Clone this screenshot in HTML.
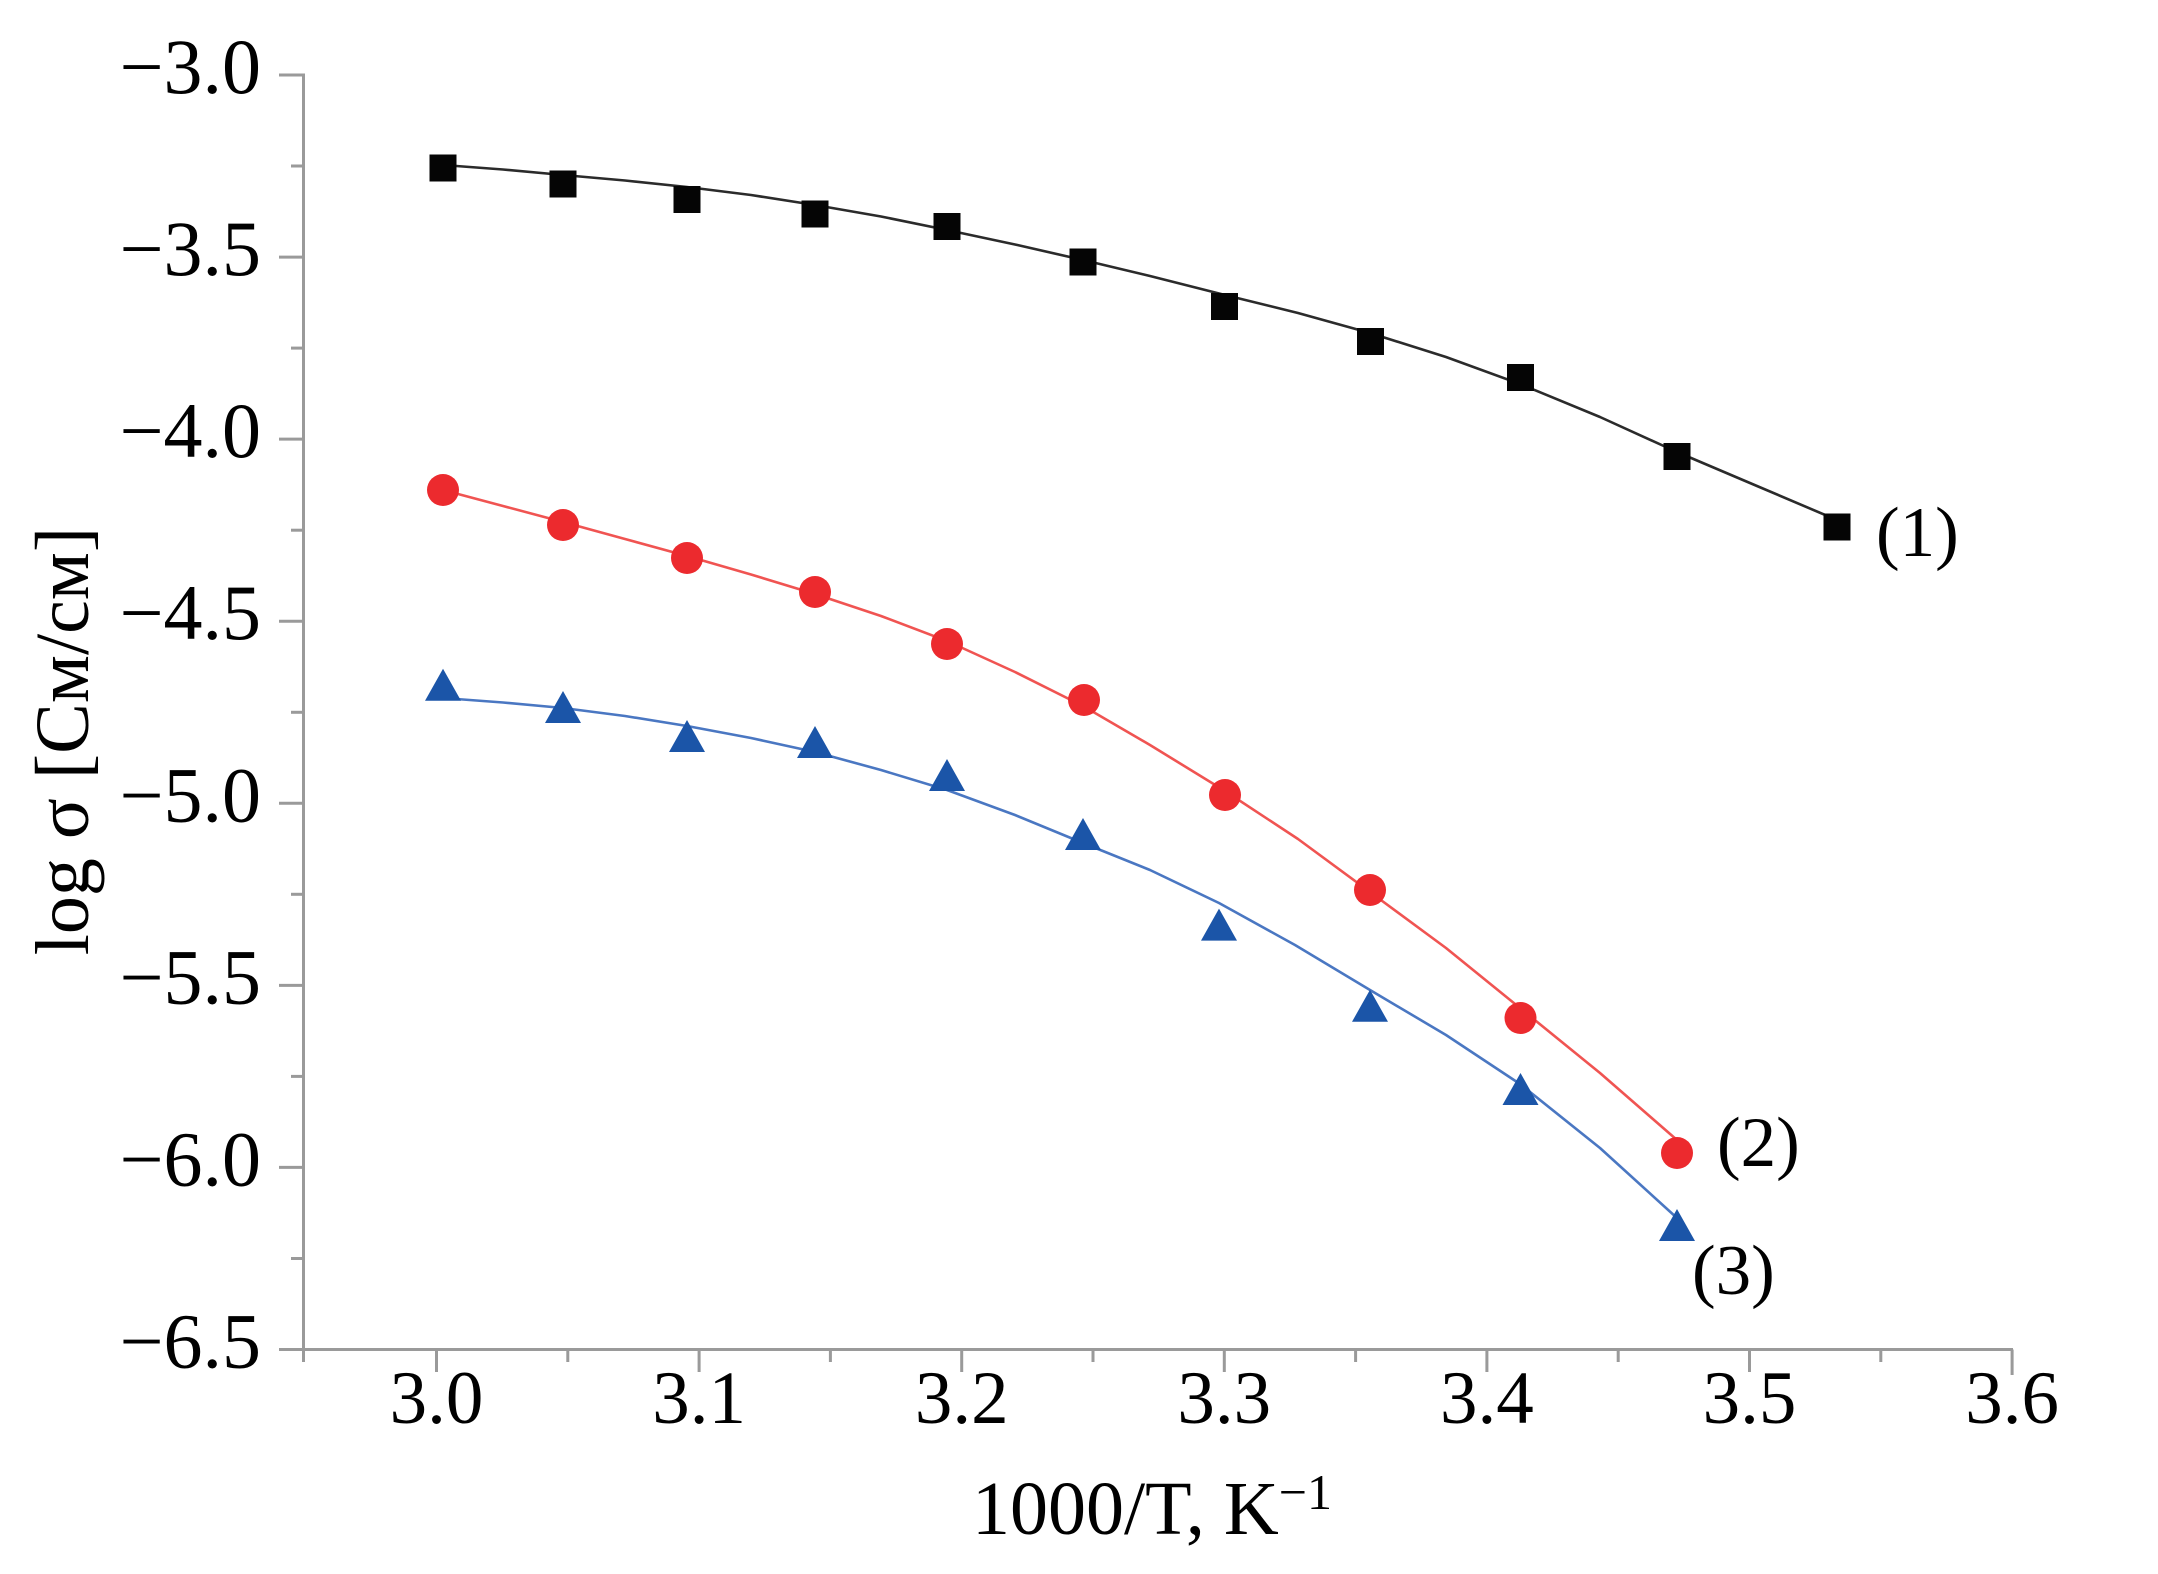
<!DOCTYPE html>
<html>
<head>
<meta charset="utf-8">
<style>
  html,body{margin:0;padding:0;background:#fff;}
  body{width:2158px;height:1574px;overflow:hidden;}
  svg{display:block;}
  text{font-family:"Liberation Serif","Times New Roman",serif;fill:#000;}
</style>
</head>
<body>
<svg width="2158" height="1574" viewBox="0 0 2158 1574" xmlns="http://www.w3.org/2000/svg">
  <rect width="2158" height="1574" fill="#fff"/>

  <!-- Axes -->
  <g stroke="#9a9a9a" stroke-width="3" fill="none">
    <line x1="303.5" y1="73.5" x2="303.5" y2="1362"/>
    <line x1="279" y1="1349.5" x2="2013" y2="1349.5"/>
    <line x1="279" y1="75" x2="303.5" y2="75"/>
    <line x1="279" y1="257.1" x2="303.5" y2="257.1"/>
    <line x1="279" y1="439.1" x2="303.5" y2="439.1"/>
    <line x1="279" y1="621.2" x2="303.5" y2="621.2"/>
    <line x1="279" y1="803.3" x2="303.5" y2="803.3"/>
    <line x1="279" y1="985.4" x2="303.5" y2="985.4"/>
    <line x1="279" y1="1167.4" x2="303.5" y2="1167.4"/>
    <line x1="291" y1="166" x2="303.5" y2="166"/>
    <line x1="291" y1="348.1" x2="303.5" y2="348.1"/>
    <line x1="291" y1="530.2" x2="303.5" y2="530.2"/>
    <line x1="291" y1="712.3" x2="303.5" y2="712.3"/>
    <line x1="291" y1="894.3" x2="303.5" y2="894.3"/>
    <line x1="291" y1="1076.4" x2="303.5" y2="1076.4"/>
    <line x1="291" y1="1258.5" x2="303.5" y2="1258.5"/>
    <line x1="436.5" y1="1349.5" x2="436.5" y2="1372"/>
    <line x1="699.1" y1="1349.5" x2="699.1" y2="1372"/>
    <line x1="961.7" y1="1349.5" x2="961.7" y2="1372"/>
    <line x1="1224.3" y1="1349.5" x2="1224.3" y2="1372"/>
    <line x1="1486.9" y1="1349.5" x2="1486.9" y2="1372"/>
    <line x1="1749.5" y1="1349.5" x2="1749.5" y2="1372"/>
    <line x1="2012.1" y1="1349.5" x2="2012.1" y2="1375"/>
    <line x1="567.8" y1="1349.5" x2="567.8" y2="1362"/>
    <line x1="830.4" y1="1349.5" x2="830.4" y2="1362"/>
    <line x1="1093" y1="1349.5" x2="1093" y2="1362"/>
    <line x1="1355.6" y1="1349.5" x2="1355.6" y2="1362"/>
    <line x1="1618.2" y1="1349.5" x2="1618.2" y2="1362"/>
    <line x1="1880.8" y1="1349.5" x2="1880.8" y2="1362"/>
  </g>

  <!-- Y tick labels -->
  <g font-size="78" text-anchor="end">
    <text x="261" y="93">−3.0</text>
    <text x="261" y="275.1">−3.5</text>
    <text x="261" y="457.1">−4.0</text>
    <text x="261" y="639.2">−4.5</text>
    <text x="261" y="821.3">−5.0</text>
    <text x="261" y="1003.4">−5.5</text>
    <text x="261" y="1185.4">−6.0</text>
    <text x="261" y="1367.5">−6.5</text>
  </g>

  <!-- X tick labels -->
  <g font-size="75" text-anchor="middle">
    <text x="436.5" y="1423">3.0</text>
    <text x="699.1" y="1423">3.1</text>
    <text x="961.7" y="1423">3.2</text>
    <text x="1224.3" y="1423">3.3</text>
    <text x="1486.9" y="1423">3.4</text>
    <text x="1749.5" y="1423">3.5</text>
    <text x="2012.1" y="1423">3.6</text>
  </g>

  <!-- Axis titles -->
  <text x="972" y="1534" font-size="76">1000/T, K<tspan font-size="50" dy="-25">−1</tspan></text>
  <text transform="translate(88,741) rotate(-90)" font-size="76" text-anchor="middle" style='font-family:"Liberation Serif","DejaVu Serif",serif'>log σ [См/см]</text>

  <!-- Curves -->
  <g fill="none" stroke-width="2.6" stroke-linejoin="round" stroke-linecap="round">
    <polyline stroke="#2b2b2b" points="443,165 503,169.5 563,175 625,180.5 687,187 751,195 815,205 881,216.5 947,230 1015,244.5 1083,260 1150,276 1225,295 1298,313 1370,333 1446,357 1520,384 1600,417 1677,452 1757,486 1837,520"/>
    <polyline stroke="#f05452" points="443,490 503,506 563,522 625,539 687,556 751,574.5 815,594 881,616 947,641 1015,672 1083,706 1150,745 1225,791 1298,839 1370,892 1446,948 1520,1008 1600,1073 1677,1140"/>
    <polyline stroke="#4a77c2" points="443,698 503,702.5 563,708 625,716 687,726 751,738 815,752 881,770 947,790 1015,815 1083,843 1150,870 1219,903 1295,945 1370,990 1446,1035 1520,1084 1600,1148 1677,1218"/>
  </g>

  <!-- Series 1: black squares -->
  <g fill="#050505">
    <rect x="429.5" y="154.5" width="27" height="27"/>
    <rect x="549.5" y="170.5" width="27" height="27"/>
    <rect x="673.5" y="186" width="27" height="27"/>
    <rect x="801.5" y="200.5" width="27" height="27"/>
    <rect x="933.5" y="213" width="27" height="27"/>
    <rect x="1069.5" y="248.5" width="27" height="27"/>
    <rect x="1211" y="293" width="27" height="27"/>
    <rect x="1357" y="328" width="27" height="27"/>
    <rect x="1507" y="364" width="27" height="27"/>
    <rect x="1663.5" y="443" width="27" height="27"/>
    <rect x="1823.5" y="513.5" width="27" height="27"/>
  </g>

  <!-- Series 2: red circles -->
  <g fill="#ec2a2e">
    <circle cx="443" cy="490" r="16"/>
    <circle cx="563" cy="525" r="16"/>
    <circle cx="687" cy="558" r="16"/>
    <circle cx="815" cy="592" r="16"/>
    <circle cx="947" cy="644" r="16"/>
    <circle cx="1084" cy="700" r="16"/>
    <circle cx="1225" cy="795" r="16"/>
    <circle cx="1370" cy="890" r="16"/>
    <circle cx="1520.5" cy="1018" r="16"/>
    <circle cx="1677" cy="1153" r="16"/>
  </g>

  <!-- Series 3: blue triangles -->
  <g fill="#1b55a8">
    <polygon points="443,668.7 425,700.7 461,700.7"/>
    <polygon points="563,691 545,723 581,723"/>
    <polygon points="687,720 669,752 705,752"/>
    <polygon points="815,726 797,758 833,758"/>
    <polygon points="947,759 929,791 965,791"/>
    <polygon points="1083,818 1065,850 1101,850"/>
    <polygon points="1219,908.6 1201,940.6 1237,940.6"/>
    <polygon points="1370,989.8 1352,1021.8 1388,1021.8"/>
    <polygon points="1520.5,1073 1502.5,1105 1538.5,1105"/>
    <polygon points="1677,1209 1659,1241 1695,1241"/>
  </g>

  <!-- Series labels -->
  <g font-size="71">
    <text x="1876" y="556">(1)</text>
    <text x="1717" y="1166">(2)</text>
    <text x="1692" y="1294">(3)</text>
  </g>
</svg>
</body>
</html>
